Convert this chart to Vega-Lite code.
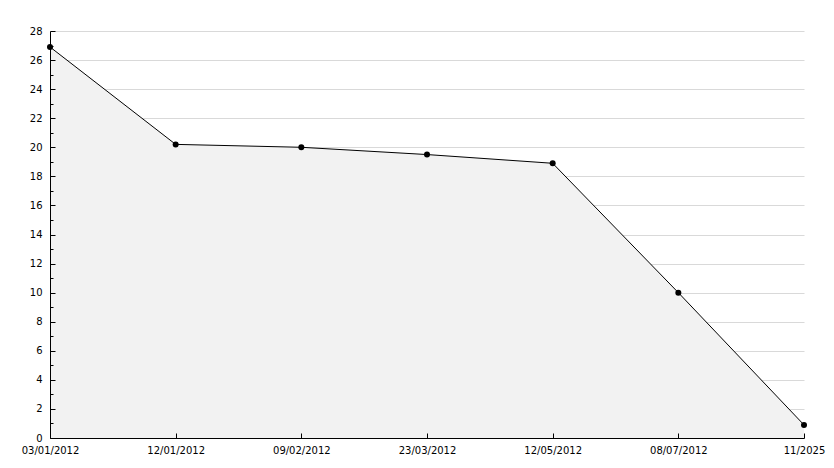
{
  "$schema": "https://vega.github.io/schema/vega-lite/v6.json",
  "width": 754,
  "height": 407,
  "autosize": "none",
  "padding": {"left": 50, "top": 31, "right": 30, "bottom": 30},
  "background": "white",
  "config": {
    "view": {"stroke": null},
    "axis": {"labelFont": "DejaVu Sans", "labelFontSize": 10, "labelColor": "#000000", "domainColor": "#000000", "tickColor": "#000000", "titleFontSize": 0}
  },
  "data": {"values": [
    {"date": "03/01/2012", "value": 26.9},
    {"date": "12/01/2012", "value": 20.2},
    {"date": "09/02/2012", "value": 20.0},
    {"date": "23/03/2012", "value": 19.5},
    {"date": "12/05/2012", "value": 18.9},
    {"date": "08/07/2012", "value": 10.0},
    {"date": "11/2025", "value": 0.9}
  ]},
  "resolve": {"axis": {"y": "independent"}},
  "layer": [
    {"mark": {"type": "area", "color": "#f2f2f2", "opacity": 1},
      "encoding": {
        "x": {"field": "date", "type": "ordinal", "sort": null, "scale": {"type": "point", "padding": 0},
          "axis": {"title": null, "labelAngle": 0, "grid": false, "tickSize": -5, "labelPadding": 12, "domainWidth": 1, "zindex": 1}},
        "y": {"field": "value", "type": "quantitative", "scale": {"domain": [0, 28], "nice": false},
          "axis": {"title": null, "orient": "left", "values": [2,4,6,8,10,12,14,16,18,20,22,24,26,28], "grid": true, "gridColor": "#d9d9d9", "labels": false, "ticks": false, "domain": false, "zindex": 0}}
      }},
    {"mark": {"type": "line", "color": "#000000", "strokeWidth": 1},
      "encoding": {
        "x": {"field": "date", "type": "ordinal", "sort": null},
        "y": {"field": "value", "type": "quantitative",
          "axis": {"title": null, "orient": "left", "values": [0,1,2,3,4,5,6,7,8,9,10,11,12,13,14,15,16,17,18,19,20,21,22,23,24,25,26,27,28],
            "labelExpr": "datum.value % 2 == 0 ? datum.label : ''",
            "grid": false,
            "tickSize": {"condition": {"test": "datum.value % 2 == 1", "value": -3}, "value": -5},
            "labelPadding": 13, "domainWidth": 1, "zindex": 1}}
      }},
    {"mark": {"type": "point", "shape": "circle", "filled": true, "color": "#000000", "size": 36, "opacity": 1},
      "encoding": {
        "x": {"field": "date", "type": "ordinal", "sort": null},
        "y": {"field": "value", "type": "quantitative", "axis": null}
      }}
  ]
}
